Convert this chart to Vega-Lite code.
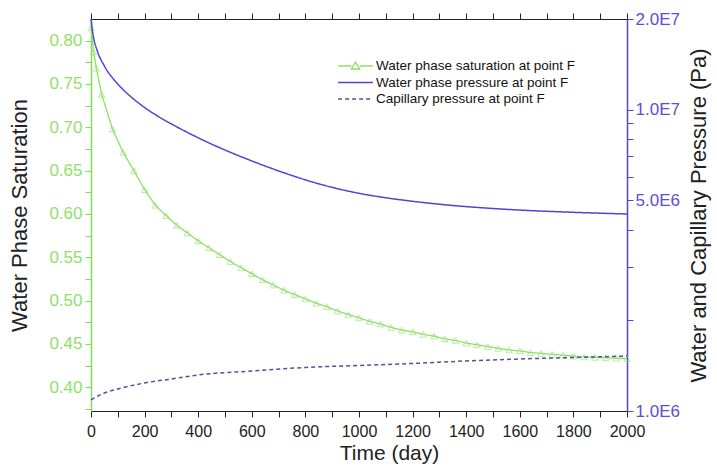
{
  "$schema": "https://vega.github.io/schema/vega-lite/v6.json",
  "width": 536,
  "height": 392,
  "autosize": {"type": "none"},
  "padding": {"left": 91, "top": 19, "right": 90, "bottom": 59},
  "background": "white",
  "config": {
    "font": "Liberation Sans",
    "view": {"stroke": null},
    "axis": {"grid": false}
  },
  "data": {
    "values": [
      {"t": 0, "s": "Water phase saturation at point F", "v": 0.815},
      {"t": 10, "s": "Water phase saturation at point F", "v": 0.787},
      {"t": 20, "s": "Water phase saturation at point F", "v": 0.768},
      {"t": 40, "s": "Water phase saturation at point F", "v": 0.738},
      {"t": 80, "s": "Water phase saturation at point F", "v": 0.698},
      {"t": 120, "s": "Water phase saturation at point F", "v": 0.671},
      {"t": 160, "s": "Water phase saturation at point F", "v": 0.650},
      {"t": 200, "s": "Water phase saturation at point F", "v": 0.628},
      {"t": 240, "s": "Water phase saturation at point F", "v": 0.610},
      {"t": 280, "s": "Water phase saturation at point F", "v": 0.598},
      {"t": 320, "s": "Water phase saturation at point F", "v": 0.587},
      {"t": 360, "s": "Water phase saturation at point F", "v": 0.578},
      {"t": 400, "s": "Water phase saturation at point F", "v": 0.569},
      {"t": 440, "s": "Water phase saturation at point F", "v": 0.561},
      {"t": 480, "s": "Water phase saturation at point F", "v": 0.553},
      {"t": 520, "s": "Water phase saturation at point F", "v": 0.545},
      {"t": 560, "s": "Water phase saturation at point F", "v": 0.538},
      {"t": 600, "s": "Water phase saturation at point F", "v": 0.531},
      {"t": 640, "s": "Water phase saturation at point F", "v": 0.524},
      {"t": 680, "s": "Water phase saturation at point F", "v": 0.518},
      {"t": 720, "s": "Water phase saturation at point F", "v": 0.512},
      {"t": 760, "s": "Water phase saturation at point F", "v": 0.507},
      {"t": 800, "s": "Water phase saturation at point F", "v": 0.502},
      {"t": 840, "s": "Water phase saturation at point F", "v": 0.497},
      {"t": 880, "s": "Water phase saturation at point F", "v": 0.493},
      {"t": 920, "s": "Water phase saturation at point F", "v": 0.488},
      {"t": 960, "s": "Water phase saturation at point F", "v": 0.484},
      {"t": 1000, "s": "Water phase saturation at point F", "v": 0.480},
      {"t": 1040, "s": "Water phase saturation at point F", "v": 0.476},
      {"t": 1080, "s": "Water phase saturation at point F", "v": 0.473},
      {"t": 1120, "s": "Water phase saturation at point F", "v": 0.469},
      {"t": 1160, "s": "Water phase saturation at point F", "v": 0.466},
      {"t": 1200, "s": "Water phase saturation at point F", "v": 0.464},
      {"t": 1240, "s": "Water phase saturation at point F", "v": 0.461},
      {"t": 1280, "s": "Water phase saturation at point F", "v": 0.459},
      {"t": 1320, "s": "Water phase saturation at point F", "v": 0.456},
      {"t": 1360, "s": "Water phase saturation at point F", "v": 0.454},
      {"t": 1400, "s": "Water phase saturation at point F", "v": 0.451},
      {"t": 1440, "s": "Water phase saturation at point F", "v": 0.449},
      {"t": 1480, "s": "Water phase saturation at point F", "v": 0.447},
      {"t": 1520, "s": "Water phase saturation at point F", "v": 0.445},
      {"t": 1560, "s": "Water phase saturation at point F", "v": 0.443},
      {"t": 1600, "s": "Water phase saturation at point F", "v": 0.442},
      {"t": 1640, "s": "Water phase saturation at point F", "v": 0.440},
      {"t": 1680, "s": "Water phase saturation at point F", "v": 0.439},
      {"t": 1720, "s": "Water phase saturation at point F", "v": 0.438},
      {"t": 1760, "s": "Water phase saturation at point F", "v": 0.437},
      {"t": 1800, "s": "Water phase saturation at point F", "v": 0.436},
      {"t": 1840, "s": "Water phase saturation at point F", "v": 0.435},
      {"t": 1880, "s": "Water phase saturation at point F", "v": 0.4345},
      {"t": 1920, "s": "Water phase saturation at point F", "v": 0.434},
      {"t": 1960, "s": "Water phase saturation at point F", "v": 0.4335},
      {"t": 2000, "s": "Water phase saturation at point F", "v": 0.433},
      {"t": 0, "s": "Water phase pressure at point F", "v": 20000000},
      {"t": 5, "s": "Water phase pressure at point F", "v": 18390000},
      {"t": 10, "s": "Water phase pressure at point F", "v": 17300000},
      {"t": 25, "s": "Water phase pressure at point F", "v": 15540000},
      {"t": 50, "s": "Water phase pressure at point F", "v": 13960000},
      {"t": 100, "s": "Water phase pressure at point F", "v": 12170000},
      {"t": 150, "s": "Water phase pressure at point F", "v": 11020000},
      {"t": 200, "s": "Water phase pressure at point F", "v": 10170000},
      {"t": 250, "s": "Water phase pressure at point F", "v": 9509000},
      {"t": 330, "s": "Water phase pressure at point F", "v": 8677000},
      {"t": 400, "s": "Water phase pressure at point F", "v": 8067000},
      {"t": 500, "s": "Water phase pressure at point F", "v": 7348000},
      {"t": 590, "s": "Water phase pressure at point F", "v": 6815000},
      {"t": 700, "s": "Water phase pressure at point F", "v": 6265000},
      {"t": 770, "s": "Water phase pressure at point F", "v": 5966000},
      {"t": 840, "s": "Water phase pressure at point F", "v": 5707000},
      {"t": 920, "s": "Water phase pressure at point F", "v": 5468000},
      {"t": 1000, "s": "Water phase pressure at point F", "v": 5279000},
      {"t": 1100, "s": "Water phase pressure at point F", "v": 5101000},
      {"t": 1200, "s": "Water phase pressure at point F", "v": 4966000},
      {"t": 1350, "s": "Water phase pressure at point F", "v": 4809000},
      {"t": 1500, "s": "Water phase pressure at point F", "v": 4700000},
      {"t": 1610, "s": "Water phase pressure at point F", "v": 4639000},
      {"t": 1800, "s": "Water phase pressure at point F", "v": 4565000},
      {"t": 2000, "s": "Water phase pressure at point F", "v": 4506000},
      {"t": 0, "s": "Capillary pressure at point F", "v": 1088000},
      {"t": 50, "s": "Capillary pressure at point F", "v": 1147000},
      {"t": 100, "s": "Capillary pressure at point F", "v": 1183000},
      {"t": 200, "s": "Capillary pressure at point F", "v": 1239000},
      {"t": 300, "s": "Capillary pressure at point F", "v": 1277000},
      {"t": 400, "s": "Capillary pressure at point F", "v": 1317000},
      {"t": 600, "s": "Capillary pressure at point F", "v": 1358000},
      {"t": 800, "s": "Capillary pressure at point F", "v": 1395000},
      {"t": 1000, "s": "Capillary pressure at point F", "v": 1416000},
      {"t": 1200, "s": "Capillary pressure at point F", "v": 1438000},
      {"t": 1400, "s": "Capillary pressure at point F", "v": 1466000},
      {"t": 1600, "s": "Capillary pressure at point F", "v": 1488000},
      {"t": 1800, "s": "Capillary pressure at point F", "v": 1505000},
      {"t": 2000, "s": "Capillary pressure at point F", "v": 1522000}
    ]
  },
  "layer": [
    {
      "transform": [{"filter": "datum.s === 'Water phase saturation at point F'"}],
      "encoding": {
        "x": {
          "field": "t", "type": "quantitative",
          "scale": {"domain": [0, 2000], "nice": false},
          "axis": {
            "orient": "bottom",
            "title": "Time (day)",
            "titleFontSize": 21, "titleFontWeight": "normal", "titleColor": "#222", "titlePadding": 3, "titleX": 298,
            "values": [0,100,200,300,400,500,600,700,800,900,1000,1100,1200,1300,1400,1500,1600,1700,1800,1900,2000],
            "labelExpr": "datum.value % 200 === 0 ? datum.label : ''",
            "format": "d",
            "labelFontSize": 16, "labelColor": "#222", "labelPadding": 6, "labelFlush": false,
            "tickSize": 6, "tickColor": "#222", "domainColor": "#222",
            "encode": {"ticks": {"update": {"y2": {"signal": "datum.value % 200 === 0 ? 6 : 3"}}}}
          }
        },
        "y": {
          "field": "v", "type": "quantitative",
          "scale": {"domain": [0.3726, 0.825], "nice": false, "zero": false},
          "axis": {
            "orient": "left",
            "title": "Water Phase Saturation",
            "titleFontSize": 22, "titleFontWeight": "normal", "titleColor": "#222", "titlePadding": 17,
            "values": [0.375,0.4,0.425,0.45,0.475,0.5,0.525,0.55,0.575,0.6,0.625,0.65,0.675,0.7,0.725,0.75,0.775,0.8],
            "labelExpr": "abs(datum.value*20 - round(datum.value*20)) < 0.01 ? format(datum.value, '.2f') : ''",
            "labelFontSize": 17, "labelColor": "#8fe06a", "labelPadding": 3,
            "tickSize": 6, "tickColor": "#80dd55", "domainColor": "#80dd55", "domainWidth": 1.5,
            "encode": {"ticks": {"update": {"x2": {"signal": "abs(datum.value*20 - round(datum.value*20)) < 0.01 ? -6 : -3"}}}}
          }
        },
        "color": {
          "field": "s", "type": "nominal",
          "scale": {
            "domain": ["Water phase saturation at point F", "Water phase pressure at point F", "Capillary pressure at point F"],
            "range": ["#8ee066", "#5043d6", "#52529c"]
          },
          "legend": {
            "title": null, "orient": "none", "legendX": 257.5, "legendY": 40,
            "labelFontSize": 13.5, "labelColor": "#111", "labelLimit": 400,
            "symbolSize": 144, "symbolStrokeWidth": 1.3,
            "rowPadding": 2.5, "labelOffset": 13.5, "padding": 0,
            "encode": {"symbols": {"update": {
              "shape": {"signal": "datum.label === 'Water phase saturation at point F' ? 'M-2.9,0H-0.7M0.7,0H2.9M0,-0.65L0.7,0.5H-0.7Z' : 'M-2.9,0H2.9'"},
              "fill": {"value": "transparent"}
            }}}
          }
        },
        "strokeDash": {
          "field": "s", "type": "nominal",
          "scale": {
            "domain": ["Water phase saturation at point F", "Water phase pressure at point F", "Capillary pressure at point F"],
            "range": [[1, 0], [1, 0], [4, 3]]
          },
          "legend": {
            "title": null, "orient": "none", "legendX": 257.5, "legendY": 40,
            "labelFontSize": 13.5, "labelColor": "#111", "labelLimit": 400,
            "symbolSize": 144, "symbolStrokeWidth": 1.3,
            "rowPadding": 2.5, "labelOffset": 13.5, "padding": 0
          }
        }
      },
      "layer": [
        {"mark": {"type": "line", "strokeWidth": 1.3}},
        {"mark": {"type": "point", "shape": "triangle-up", "filled": false, "size": 42, "strokeWidth": 1}, "encoding": {"strokeDash": {"value": [1, 0]}}}
      ]
    },
    {
      "transform": [{"filter": "datum.s !== 'Water phase saturation at point F'"}],
      "mark": {"type": "line", "strokeWidth": 1.5, "interpolate": "monotone"},
      "encoding": {
        "x": {
          "field": "t", "type": "quantitative",
          "scale": {"domain": [0, 2000], "nice": false},
          "axis": {
            "orient": "top", "title": null, "labels": false,
            "values": [0,100,200,300,400,500,600,700,800,900,1000,1100,1200,1300,1400,1500,1600,1700,1800,1900,2000],
            "tickSize": 6, "tickColor": "#222", "domainColor": "#222",
            "encode": {"ticks": {"update": {"y2": {"signal": "datum.value % 200 === 0 ? 6 : 3"}}}}
          }
        },
        "y": {
          "field": "v", "type": "quantitative",
          "scale": {"type": "log", "domain": [1000000, 20000000], "nice": false},
          "axis": {
            "orient": "right",
            "title": "Water and Capillary Pressure (Pa)",
            "titleFontSize": 22, "titleFontWeight": "normal", "titleColor": "#222",
            "titleAngle": 270, "titleBaseline": "top", "titlePadding": 9,
            "values": [1000000,2000000,3000000,4000000,5000000,6000000,7000000,8000000,9000000,10000000,20000000],
            "labelExpr": "datum.value == 1000000 ? '1.0E6' : datum.value == 5000000 ? '5.0E6' : datum.value == 10000000 ? '1.0E7' : datum.value == 20000000 ? '2.0E7' : ''",
            "labelFontSize": 17, "labelColor": "#5a4fd4", "labelPadding": 2, "labelFlush": false,
            "tickSize": 6, "tickColor": "#5043d6", "domainColor": "#5043d6", "domainWidth": 1.5,
            "encode": {"ticks": {"update": {"x2": {"signal": "indexof([1000000,5000000,10000000,20000000], datum.value) >= 0 ? -6 : -3"}}}}
          }
        },
        "color": {"field": "s", "type": "nominal"},
        "strokeDash": {"field": "s", "type": "nominal"}
      }
    }
  ],
  "resolve": {"scale": {"y": "independent"}, "axis": {"x": "independent"}}
}
